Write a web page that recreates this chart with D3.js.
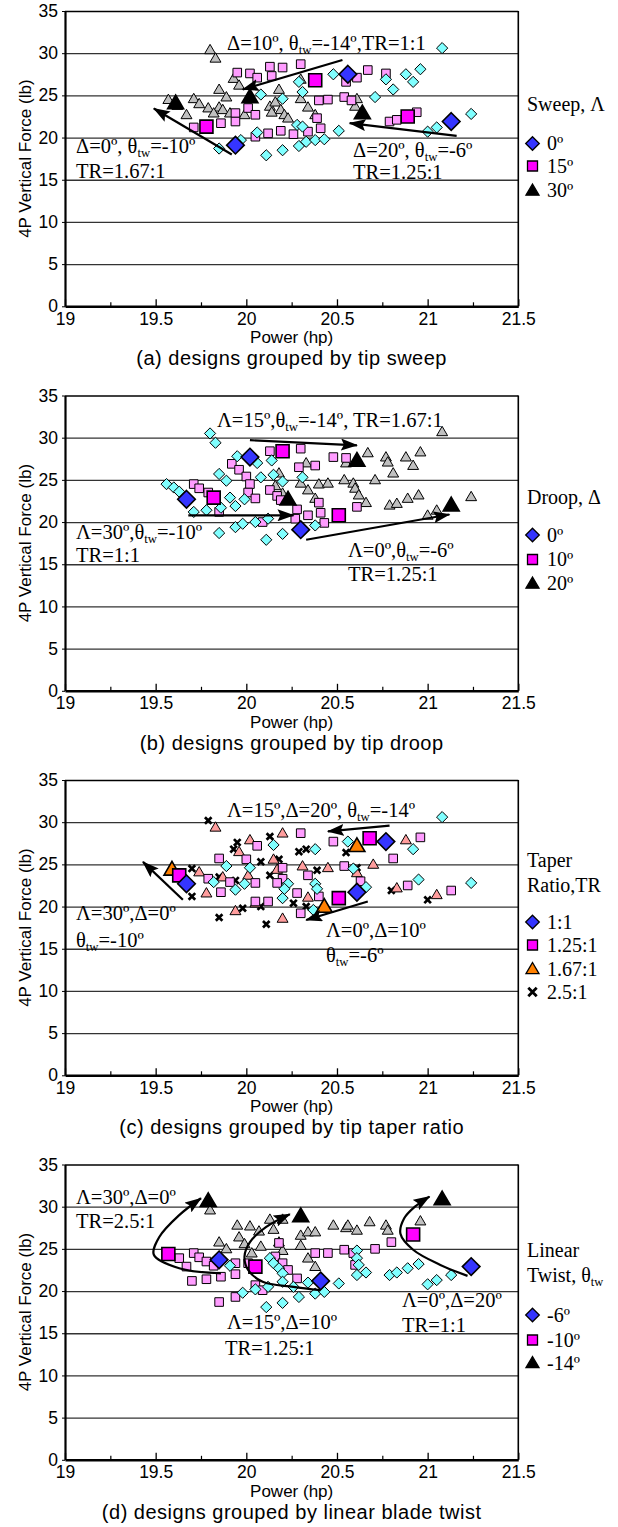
<!DOCTYPE html>
<html>
<head>
<meta charset="utf-8">
<script src="https://cdn.jsdelivr.net/npm/d3@7"></script>
<style>
body{margin:0;background:#fff}
svg{display:block}
.sans{font-family:"Liberation Sans",Arial,sans-serif;fill:#000}
.serif{font-family:"Liberation Serif","Times New Roman",serif;fill:#000}
.axis path,.axis line{stroke:#000}
</style>
</head>
<body>
<svg id="chart" width="618" height="1527"></svg>
<script>
// ---------------------------------------------------------------
// axis values
// ---------------------------------------------------------------
var X_TICKS = [19, 19.5, 20, 20.5, 21, 21.5];
var X_MINOR = [19.25, 19.75, 20.25, 20.75, 21.25];
var Y_TICKS = [0, 5, 10, 15, 20, 25, 30, 35];
var CAPTIONS = ["(a) designs grouped by tip sweep", "(b) designs grouped by tip droop",
                "(c) designs grouped by tip taper ratio", "(d) designs grouped by linear blade twist"];

// ---------------------------------------------------------------
// (a) tip sweep
// ---------------------------------------------------------------
var sweep0 = [[19.85,18.7],[19.97,19.7],[20.08,25.1],[20.20,24.6],[20.06,20.6],[20.11,17.9],[20.20,18.5],[20.28,21.5],[20.29,19.0],[20.33,19.5],[20.38,19.7],[20.29,26.6],[20.31,25.4],[21.08,30.6],[20.48,27.5],[20.77,26.9],[20.88,27.5],[20.96,28.1],[20.92,26.6],[20.81,25.7],[20.71,24.8],[21.24,22.8],[21.05,21.2],[21.00,20.7],[20.51,20.8],[20.43,19.8],[20.31,21.3]];
var sweep15 = [[19.95,27.7],[20.02,27.6],[20.06,27.1],[20.13,28.4],[20.20,28.3],[20.30,28.7],[20.14,27.3],[19.94,22.9],[20.01,23.5],[20.05,22.7],[19.86,21.7],[19.94,21.9],[19.71,21.2],[20.05,20.1],[20.12,20.5],[20.19,20.8],[20.26,20.4],[20.34,20.7],[20.67,28.0],[20.77,27.6],[20.61,27.1],[20.55,26.6],[20.40,24.4],[20.45,24.5],[20.54,24.8],[20.58,24.4],[20.79,21.9],[20.83,22.1],[20.94,23.0],[20.39,22.3],[20.41,21.1]];
var sweep30 = [[19.80,30.4],[19.83,29.4],[19.93,27.0],[19.96,26.2],[19.85,25.7],[19.89,24.8],[19.71,24.6],[19.57,24.5],[19.62,23.8],[19.74,24.0],[19.79,23.5],[19.85,23.6],[19.87,23.3],[19.91,22.9],[19.67,22.7],[19.82,22.9],[19.99,22.7],[20.13,23.7],[20.18,25.7],[20.16,24.2],[20.19,23.3],[20.14,23.0],[20.21,22.7],[20.23,22.3],[20.30,24.6],[20.34,23.6],[20.38,22.7],[20.61,24.6],[20.60,23.7],[20.30,26.9]];
var sweepHi0 = [[19.94,19.1],[20.56,27.5],[21.13,21.9]];
var sweepHi15 = [[19.78,21.3],[20.38,26.8],[20.89,22.5]];
var sweepHi30 = [[19.61,24.1],[20.02,24.8],[20.64,22.9]];
var sweepArrows = [[[20.53,29.2],[19.98,25.7]], [[19.92,18.0],[19.49,23.45]], [[21.16,20.2],[20.57,21.7]]];

// ---------------------------------------------------------------
// (b) tip droop
// ---------------------------------------------------------------
var droop0 = [[19.80,30.5],[19.83,29.4],[19.85,25.7],[19.89,24.9],[19.56,24.5],[19.60,24.1],[19.63,23.6],[19.95,27.8],[20.06,27.0],[20.14,27.3],[20.08,25.3],[19.82,22.8],[19.91,22.9],[19.94,21.9],[19.99,22.7],[19.71,21.2],[19.78,21.4],[19.86,21.7],[19.85,18.7],[19.94,19.4],[19.98,19.8],[20.05,20.0],[20.12,20.4],[20.11,17.9],[20.20,18.6],[20.15,25.6],[20.20,24.8],[20.31,25.3],[20.38,19.6]];
var droop10 = [[20.13,28.4],[20.30,28.7],[19.92,26.9],[19.96,26.2],[20.00,25.4],[20.02,24.5],[19.71,24.5],[19.74,24.0],[19.79,23.5],[20.01,23.5],[20.05,22.8],[19.85,21.2],[20.13,23.8],[20.17,23.1],[20.19,22.6],[20.28,21.5],[20.27,20.4],[20.34,20.8],[20.29,26.5],[20.38,26.7],[20.09,20.0],[20.48,27.7],[20.55,27.6],[20.61,21.8],[20.40,22.3],[20.41,21.1],[20.43,19.9]];
var droop20 = [[20.18,25.8],[20.16,24.3],[20.20,23.4],[20.33,27.0],[20.30,24.6],[20.34,23.8],[20.38,22.8],[20.40,24.5],[20.45,24.6],[21.08,30.7],[20.67,28.2],[20.77,27.7],[20.78,27.1],[20.88,27.7],[20.96,28.3],[20.92,26.7],[20.81,25.8],[20.71,25.0],[20.54,25.0],[20.59,24.6],[20.60,24.0],[20.62,23.2],[20.66,22.3],[20.79,22.0],[20.83,22.2],[20.89,22.8],[20.95,23.2],[21.24,23.0],[21.00,20.8],[21.05,21.4],[20.55,27.0]];
var droopHi0 = [[19.67,22.7],[20.02,27.7],[20.30,19.1]];
var droopHi10 = [[19.82,22.9],[20.20,28.4],[20.51,20.8]];
var droopHi20 = [[20.23,22.7],[20.61,27.3],[21.13,22.0]];
var droopArrows = [[[20.02,29.7],[20.61,29.1]], [[19.68,20.8],[20.26,20.8]], [[20.33,17.9],[21.12,20.9]]];

// ---------------------------------------------------------------
// (c) tip taper ratio
// ---------------------------------------------------------------
var taper1 = [[19.89,24.8],[19.82,22.9],[19.94,22.0],[19.99,22.7],[20.02,24.6],[20.15,27.3],[20.20,21.0],[20.23,22.7],[20.21,22.1],[20.37,19.6],[20.38,26.8],[20.38,22.7],[20.39,22.1],[21.08,30.6],[20.56,27.7],[20.92,26.8],[20.59,24.5],[20.66,22.3],[20.95,23.2],[21.24,22.8]];
var taper125 = [[19.85,25.7],[19.91,22.9],[19.86,21.7],[20.00,25.6],[20.05,22.8],[20.06,27.2],[20.05,20.6],[20.12,20.6],[20.20,24.6],[20.20,23.3],[20.17,22.8],[20.28,21.6],[20.30,19.2],[20.30,28.7],[20.34,23.7],[20.40,21.2],[19.79,23.3],[20.96,28.2],[20.48,27.7],[20.81,25.7],[20.54,24.8],[20.63,23.0],[20.89,22.5],[21.13,21.9]];
var taper167 = [[19.83,29.4],[19.74,24.1],[19.78,21.6],[19.87,23.5],[19.96,26.5],[20.02,27.9],[20.01,23.7],[19.94,19.5],[20.05,20.4],[20.20,28.7],[20.15,25.6],[20.17,24.4],[20.20,18.6],[20.31,24.8],[20.34,21.1],[20.88,27.9],[20.45,24.6],[20.70,25.0],[20.61,24.0],[20.83,22.2],[21.05,21.4]];
var taper25 = [[19.79,30.2],[19.70,24.5],[19.70,21.2],[19.95,27.6],[19.93,26.8],[19.94,23.1],[19.85,23.5],[19.85,18.7],[19.98,19.8],[20.08,25.3],[20.13,28.3],[20.18,25.6],[20.13,23.7],[20.08,20.0],[20.11,17.9],[20.26,20.4],[20.29,26.5],[20.33,26.8],[20.39,24.3],[20.33,20.0],[20.55,26.4],[20.61,24.6],[20.80,21.9],[21.00,20.8]];
var taperHi1 = [[19.67,22.7],[20.77,27.7],[20.61,21.7]];
var taperHi125 = [[19.63,23.7],[20.68,28.1],[20.51,21.0]];
var taperHi167 = [[19.59,24.4],[20.61,27.2],[20.43,20.0]];
var taperArrows = [[[19.65,20.8],[19.43,25.3]], [[20.79,29.6],[20.45,28.9]], [[20.67,20.6],[20.33,18.4]]];

// ---------------------------------------------------------------
// (d) linear twist
// ---------------------------------------------------------------
var twist6 = [[19.91,23.0],[19.98,19.8],[20.05,20.2],[20.12,20.5],[20.11,18.1],[20.20,18.6],[20.13,23.9],[20.15,23.3],[20.18,22.7],[20.20,22.1],[20.20,21.1],[20.26,20.5],[20.29,19.3],[20.34,21.0],[20.38,19.7],[20.61,24.8],[20.61,23.9],[20.62,23.1],[20.66,22.2],[20.61,21.9],[20.51,20.9],[20.79,21.9],[20.83,22.2],[20.89,22.7],[20.95,23.2],[21.05,21.3],[21.00,20.8],[20.43,19.9],[21.13,21.9]];
var twist10 = [[19.71,24.5],[19.63,23.9],[19.67,22.9],[19.74,24.0],[19.78,23.5],[19.82,23.0],[19.70,21.2],[19.78,21.4],[19.86,21.7],[19.85,18.7],[19.94,22.0],[19.94,23.3],[20.01,23.3],[19.94,19.3],[20.05,20.7],[20.09,20.1],[20.16,24.1],[20.20,23.3],[20.23,22.5],[20.28,21.5],[20.38,24.5],[20.45,24.5],[20.54,24.9],[20.59,24.5],[20.71,25.0],[20.80,25.8],[20.60,23.1],[20.18,25.7]];
var twist14 = [[19.95,27.8],[20.02,27.7],[20.07,27.1],[19.96,26.4],[19.85,25.8],[19.89,25.0],[19.99,25.6],[20.08,25.3],[20.13,28.5],[20.20,28.5],[20.15,27.3],[20.18,25.8],[20.20,24.8],[20.30,26.6],[20.34,27.0],[20.38,27.0],[20.30,25.4],[20.34,23.9],[20.38,22.9],[20.03,24.5],[20.48,27.8],[20.55,27.5],[20.56,27.8],[20.61,27.2],[20.68,28.2],[20.77,27.8],[20.78,27.2],[20.96,28.3],[19.80,29.6]];
var twistHi6 = [[19.85,23.7],[20.41,21.2],[21.24,22.9]];
var twistHi10 = [[19.57,24.4],[20.05,22.9],[20.92,26.7]];
var twistHi14 = [[19.79,30.7],[20.30,28.9],[21.08,30.9]];
var twistCurves = [
	[[19.86,22.1],[19.63,22.7],[19.49,24.3],[19.52,26.4],[19.63,29.0],[19.75,31.0]],
	[[20.41,20.1],[20.26,20.5],[20.09,21.1],[20.01,22.5],[19.99,24.1],[20.02,25.8],[20.11,27.6],[20.24,29.1]],
	[[21.22,21.8],[21.07,23.1],[20.92,24.9],[20.85,26.8],[20.87,28.6],[20.93,30.0],[21.01,31.2]]];

// colors
var C_CYAN="#80ffff", C_PINK="#ff9cff", C_GRAY="#c0c0c0", C_SALMON="#ff9d9d";
var C_BLUE="#3535ff", C_MAGENTA="#ff00ff", C_BLACK="#000", C_ORANGE="#ff8000";

// ---------------------------------------------------------------
// panel configuration (layout only)
// ---------------------------------------------------------------
var PANELS = [
	{top:11,
	 series:[{d:sweep30,s:"tri",c:C_GRAY},{d:sweep15,s:"sq",c:C_PINK},{d:sweep0,s:"dia",c:C_CYAN}],
	 hi:[{d:sweepHi30,s:"tri",c:C_BLACK},{d:sweepHi15,s:"sq",c:C_MAGENTA},{d:sweepHi0,s:"dia",c:C_BLUE}],
	 arrows:sweepArrows, curves:[],
	 notes:[{t:"Δ=10º, θ_{tw}=-14º,TR=1:1",x:227,y:39},{t:"Δ=0º, θ_{tw}=-10º",x:76,y:142},{t:"TR=1.67:1",x:76,y:167},
	        {t:"Δ=20º, θ_{tw}=-6º",x:353,y:146},{t:"TR=1.25:1",x:353,y:168}],
	 legTitle:[{t:"Sweep, Λ",y:100}],
	 leg:[{t:"0º",s:"dia",c:C_BLUE,y:132.5},{t:"15º",s:"sq",c:C_MAGENTA,y:155},{t:"30º",s:"tri",c:C_BLACK,y:179.5}]},
	{top:395.5,
	 series:[{d:droop20,s:"tri",c:C_GRAY},{d:droop10,s:"sq",c:C_PINK},{d:droop0,s:"dia",c:C_CYAN}],
	 hi:[{d:droopHi20,s:"tri",c:C_BLACK},{d:droopHi10,s:"sq",c:C_MAGENTA},{d:droopHi0,s:"dia",c:C_BLUE}],
	 arrows:droopArrows, curves:[],
	 notes:[{t:"Λ=15º,θ_{tw}=-14º, TR=1.67:1",x:217,y:31},{t:"Λ=30º,θ_{tw}=-10º",x:76,y:143},{t:"TR=1:1",x:76,y:166},
	        {t:"Λ=0º,θ_{tw}=-6º",x:348,y:161},{t:"TR=1.25:1",x:348,y:185}],
	 legTitle:[{t:"Droop, Δ",y:108}],
	 leg:[{t:"0º",s:"dia",c:C_BLUE,y:139.5},{t:"10º",s:"sq",c:C_MAGENTA,y:164},{t:"20º",s:"tri",c:C_BLACK,y:188}]},
	{top:780,
	 series:[{d:taper25,s:"x",c:C_BLACK},{d:taper167,s:"tri",c:C_SALMON},{d:taper125,s:"sq",c:C_PINK},{d:taper1,s:"dia",c:C_CYAN}],
	 hi:[{d:taperHi167,s:"tri",c:C_ORANGE},{d:taperHi125,s:"sq",c:C_MAGENTA},{d:taperHi1,s:"dia",c:C_BLUE}],
	 arrows:taperArrows, curves:[],
	 notes:[{t:"Λ=15º,Δ=20º, θ_{tw}=-14º",x:227,y:37},{t:"Λ=30º,Δ=0º",x:76,y:140},{t:"θ_{tw}=-10º",x:76,y:167},
	        {t:"Λ=0º,Δ=10º",x:326,y:157},{t:"θ_{tw}=-6º",x:326,y:182}],
	 legTitle:[{t:"Taper",y:87},{t:"Ratio,TR",y:112}],
	 leg:[{t:"1:1",s:"dia",c:C_BLUE,y:142},{t:"1.25:1",s:"sq",c:C_MAGENTA,y:165},{t:"1.67:1",s:"tri",c:C_ORANGE,y:189},{t:"2.5:1",s:"x",c:C_BLACK,y:212}]},
	{top:1164.5,
	 series:[{d:twist14,s:"tri",c:C_GRAY},{d:twist10,s:"sq",c:C_PINK},{d:twist6,s:"dia",c:C_CYAN}],
	 hi:[{d:twistHi14,s:"tri",c:C_BLACK},{d:twistHi10,s:"sq",c:C_MAGENTA},{d:twistHi6,s:"dia",c:C_BLUE}],
	 arrows:[], curves:twistCurves,
	 notes:[{t:"Λ=30º,Δ=0º",x:76,y:39},{t:"TR=2.5:1",x:76,y:63},{t:"Λ=15º,Δ=10º",x:227,y:164},{t:"TR=1.25:1",x:225,y:190},
	        {t:"Λ=0º,Δ=20º",x:402,y:142},{t:"TR=1:1",x:402,y:167}],
	 legTitle:[{t:"Linear",y:92},{t:"Twist, θ_{tw}",y:117}],
	 leg:[{t:"-6º",s:"dia",c:C_BLUE,y:150.5},{t:"-10º",s:"sq",c:C_MAGENTA,y:175.5},{t:"-14º",s:"tri",c:C_BLACK,y:198.5}]}
];

var X0 = 65, X1 = 518.3, PH = 295.3;
var x = d3.scaleLinear().domain([19, 21.5]).range([X0, X1]);
var y = d3.scaleLinear().domain([0, 35]).range([PH, 0]);

var svg = d3.select("#chart");

// arrow head
svg.append("defs").append("marker")
	.attr("id", "head")
	.attr("markerUnits", "userSpaceOnUse")
	.attr("markerWidth", 18).attr("markerHeight", 12)
	.attr("refX", 16).attr("refY", 6)
	.attr("orient", "auto")
	.append("path").attr("d", "M0,0 L17,6 L0,12 L3,6 Z").attr("fill", "#000");

/* shape path helper, k = half size */
function shapePath(s, k) {
	if (s == "dia") return "M0," + (-k) + "L" + k + ",0L0," + k + "L" + (-k) + ",0Z";
	if (s == "sq") return "M" + (-k) + "," + (-k) + "H" + k + "V" + k + "H" + (-k) + "Z";
	if (s == "tri") return "M0," + (-k * 1.05) + "L" + (k * 1.05) + "," + (k * 0.75) + "L" + (-k * 1.05) + "," + (k * 0.75) + "Z";
	return "M" + (-k) + "," + (-k) + "L" + k + "," + k + "M" + (-k) + "," + k + "L" + k + "," + (-k);
}
var SMALL = {dia:5.6, sq:4.3, tri:5.2, x:3.3};
var BIG = {dia:8.8, sq:6.5, tri:7.6, x:4};
var LEG = {dia:6.8, sq:5, tri:6.2, x:4.2};

function drawMarks(g, d, s, c, sizes, sw) {
	g.selectAll(null).data(d).enter().append("path")
		.attr("transform", function(p){ return "translate(" + x(p[0]) + "," + y(p[1]) + ")"; })
		.attr("d", shapePath(s, sizes[s]))
		.attr("fill", s == "x" ? "none" : c)
		.attr("stroke", "#000")
		.attr("stroke-width", s == "x" ? 2.7 : sw);
}

/* text with _{sub} subscripts */
function richText(g, str, px, py, size) {
	var t = g.append("text").attr("class", "serif").attr("x", px).attr("y", py).style("font-size", size + "px");
	var down = false;
	str.split(/(_\{[^}]*\})/).forEach(function(part) {
		if (!part) return;
		if (part.indexOf("_{") == 0) {
			t.append("tspan").text(part.slice(2, -1)).attr("dy", 4).style("font-size", (size * 0.62) + "px");
			down = true;
		} else {
			var ts = t.append("tspan").text(part);
			if (down) { ts.attr("dy", -4); down = false; }
		}
	});
	return t;
}

var line = d3.line().x(function(p){ return x(p[0]); }).y(function(p){ return y(p[1]); });
var curve = d3.line().x(function(p){ return x(p[0]); }).y(function(p){ return y(p[1]); }).curve(d3.curveCatmullRom);

PANELS.forEach(function(P, i) {
	var g = svg.append("g").attr("transform", "translate(0," + P.top + ")");

	// grid lines
	g.selectAll(null).data(Y_TICKS.filter(function(v){ return v > 0; })).enter().append("line")
		.attr("x1", X0).attr("x2", X1).attr("y1", function(v){ return y(v) + 0.5; }).attr("y2", function(v){ return y(v) + 0.5; })
		.attr("stroke", v => v == 35 ? "#000" : "#333").attr("stroke-width", 1.3);
	g.append("line").attr("x1", X1).attr("x2", X1).attr("y1", 0).attr("y2", PH).attr("stroke", "#000").attr("stroke-width", 1.6);

	// axes
	var ax = g.append("g").attr("class", "axis").attr("transform", "translate(0," + PH + ")")
		.call(d3.axisBottom(x).tickValues(X_TICKS).tickSize(-7).tickSizeOuter(0).tickPadding(6).tickFormat(d3.format("")));
	ax.select(".domain").attr("stroke-width", 2.6);
	ax.selectAll("line").attr("stroke-width", 1.3);
	ax.selectAll("text").attr("class", "sans").style("font-size", "17.5px").attr("fill", "#000");
	g.append("g").attr("class", "axis").attr("transform", "translate(0," + PH + ")")
		.call(d3.axisBottom(x).tickValues(X_MINOR).tickSize(-4).tickSizeOuter(0).tickFormat(""))
		.call(function(a){ a.select(".domain").remove(); a.selectAll("line").attr("stroke-width", 1.2); });

	var ay = g.append("g").attr("class", "axis").attr("transform", "translate(" + X0 + ",0)")
		.call(d3.axisLeft(y).tickValues(Y_TICKS).tickSize(3).tickSizeOuter(0).tickPadding(4));
	ay.select(".domain").attr("stroke-width", 2.2);
	ay.selectAll("text").attr("class", "sans").style("font-size", "17.5px").attr("fill", "#000");

	g.append("text").attr("class", "sans").style("font-size", "17px")
		.attr("text-anchor", "middle").attr("transform", "translate(31," + (PH / 2) + ") rotate(-90)")
		.text("4P Vertical Force (lb)");
	g.append("text").attr("class", "sans").style("font-size", "17px")
		.attr("text-anchor", "middle").attr("x", (X0 + X1) / 2).attr("y", 332).text("Power (hp)");
	g.append("text").attr("class", "sans").style("font-size", "20px").style("letter-spacing", "0.5px")
		.attr("text-anchor", "middle").attr("x", (X0 + X1) / 2).attr("y", 354).text(CAPTIONS[i]);

	// data points
	P.series.forEach(function(s){ drawMarks(g, s.d, s.s, s.c, SMALL, 1); });
	P.hi.forEach(function(s){ drawMarks(g, s.d, s.s, s.c, BIG, 1.6); });

	// arrows
	P.arrows.forEach(function(a) {
		g.append("path").attr("d", line(a)).attr("fill", "none").attr("stroke", "#000")
			.attr("stroke-width", 2.2).attr("marker-end", "url(#head)");
	});
	P.curves.forEach(function(a) {
		g.append("path").attr("d", curve(a)).attr("fill", "none").attr("stroke", "#000")
			.attr("stroke-width", 2.2).attr("marker-end", "url(#head)");
	});

	// annotations
	P.notes.forEach(function(n){ richText(g, n.t, n.x, n.y, 20.5); });

	// legend
	P.legTitle.forEach(function(n){ richText(g, n.t, 527, n.y, 20); });
	P.leg.forEach(function(l) {
		g.append("path").attr("transform", "translate(532.5," + l.y + ")")
			.attr("d", shapePath(l.s, LEG[l.s]))
			.attr("fill", l.s == "x" ? "none" : l.c).attr("stroke", "#000")
			.attr("stroke-width", l.s == "x" ? 2.8 : 1.3);
		richText(g, l.t, 547, l.y + 6.5, 20);
	});
});
</script>
</body>
</html>
